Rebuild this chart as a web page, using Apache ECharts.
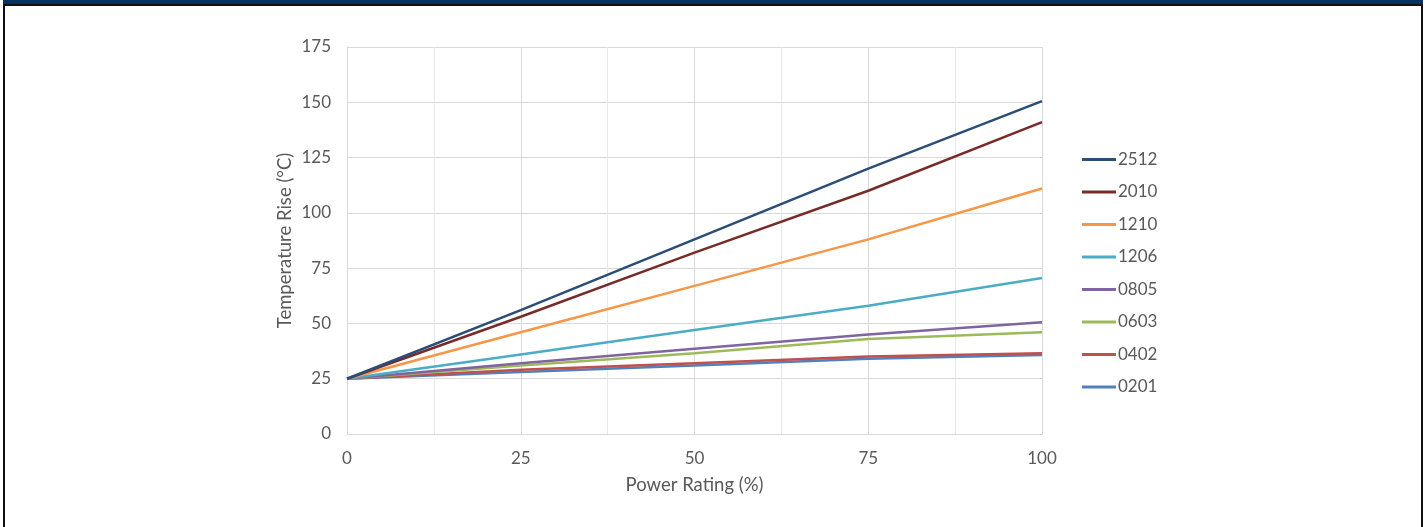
<!DOCTYPE html>
<html>
<head>
<meta charset="utf-8">
<script src="https://cdn.jsdelivr.net/npm/echarts@6/dist/echarts.min.js"></script>
<style>
html,body{margin:0;padding:0;background:#fff;width:1425px;height:527px;overflow:hidden;}
#frame{position:absolute;left:3px;top:0;width:1416px;height:527px;border-left:2px solid #111;border-right:2px solid #111;box-sizing:content-box;}
#band{position:absolute;left:3px;top:0;width:1420px;height:4px;background:#06325F;border-bottom:2px solid #111;}
#chart{position:absolute;left:0;top:0;width:1425px;height:527px;}
</style>
</head>
<body>
<div id="chart"></div>
<div id="frame"></div>
<div id="band"></div>
<script>
const powerRating = [0, 25, 50, 75, 100];
const seriesNames = ['2512', '2010', '1210', '1206', '0805', '0603', '0402', '0201'];
const s2512 = [25, 56, 88, 120, 150.5];
const s2010 = [25, 53, 82, 110, 141];
const s1210 = [25, 46, 67, 88, 111];
const s1206 = [25, 36, 47, 58, 70.5];
const s0805 = [25, 32, 38.5, 45, 50.5];
const s0603 = [25, 31, 36.5, 43, 46];
const s0402 = [25, 29, 32, 35, 36.5];
const s0201 = [25, 28, 31, 34, 35.7];
const seriesValues = [s2512, s2010, s1210, s1206, s0805, s0603, s0402, s0201];
const colors = ['#2C4D75', '#772C2A', '#F79646', '#4BACC6', '#8064A2', '#9BBB59', '#C0504D', '#4F81BD'];

const font = 'Lato, "Open Sans", sans-serif';
const chart = echarts.init(document.getElementById('chart'), null, {renderer: 'canvas'});
chart.setOption({
  animation: false,
  color: colors,
  grid: {left: 347, right: 383, top: 47, bottom: 93, containLabel: false},
  legend: {
    orient: 'vertical',
    left: 1077,
    top: 146,
    itemWidth: 34,
    itemHeight: 3,
    itemGap: 15.5,
    icon: 'rect',
    textStyle: {fontFamily: font, fontSize: 17, color: '#595959', padding: [0, 0, 0, -3], lineHeight: 14},
    data: seriesNames
  },
  xAxis: {
    type: 'value',
    min: 0, max: 100, interval: 25,
    name: 'Power Rating (%)',
    nameLocation: 'middle',
    nameGap: 42,
    nameTextStyle: {fontFamily: font, fontSize: 18.5, color: '#595959'},
    axisLine: {show: true, lineStyle: {color: '#D9D9D9', width: 1}},
    axisTick: {show: false},
    axisLabel: {fontFamily: font, fontSize: 17, color: '#595959', margin: 16},
    splitLine: {show: true, lineStyle: {color: '#D9D9D9', width: 1}},
    minorTick: {show: false, splitNumber: 2},
    minorSplitLine: {show: true, lineStyle: {color: '#E8E8E8', width: 1}}
  },
  yAxis: {
    type: 'value',
    min: 0, max: 175, interval: 25,
    name: 'Temperature Rise (°C)',
    nameLocation: 'middle',
    nameGap: 52,
    nameTextStyle: {fontFamily: font, fontSize: 18.5, color: '#595959'},
    axisLine: {show: true, lineStyle: {color: '#D9D9D9', width: 1}},
    axisTick: {show: false},
    axisLabel: {fontFamily: font, fontSize: 17, color: '#595959', margin: 16},
    splitLine: {show: true, lineStyle: {color: '#D9D9D9', width: 1}}
  },
  series: seriesNames.map((n, i) => ({
    name: n,
    type: 'line',
    data: powerRating.map((x, j) => [x, seriesValues[i][j]]),
    showSymbol: false,
    symbol: 'none',
    lineStyle: {width: 2.5, color: colors[i]},
    itemStyle: {color: colors[i]},
    z: 10 - i
  }))
});
</script>
</body>
</html>
